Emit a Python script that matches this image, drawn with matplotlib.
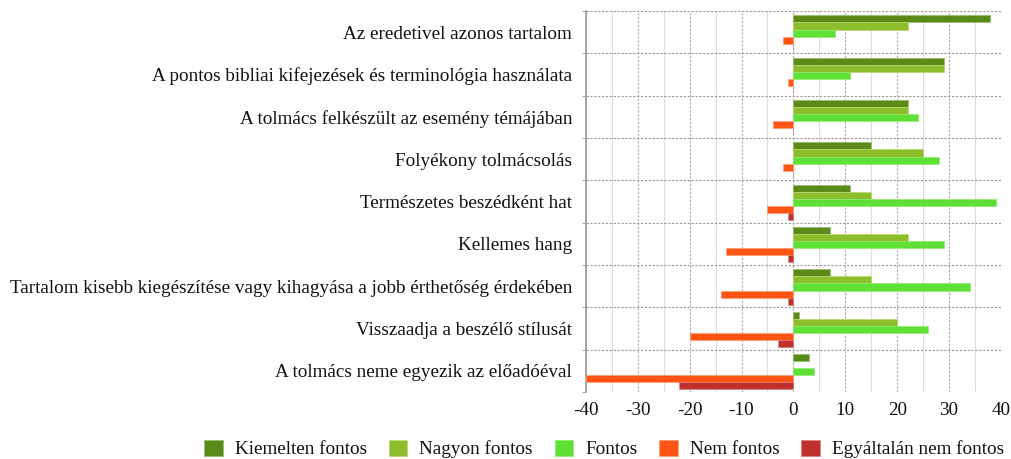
import matplotlib
matplotlib.use("Agg")
import matplotlib.pyplot as plt
import numpy as np

categories = [
    "Az eredetivel azonos tartalom",
    "A pontos bibliai kifejezések és terminológia használata",
    "A tolmács felkészült az esemény témájában",
    "Folyékony tolmácsolás",
    "Természetes beszédként hat",
    "Kellemes hang",
    "Tartalom kisebb kiegészítése vagy kihagyása a jobb érthetőség érdekében",
    "Visszaadja a beszélő stílusát",
    "A tolmács neme egyezik az előadóéval",
]
series_names = ["Kiemelten fontos", "Nagyon fontos", "Fontos", "Nem fontos", "Egyáltalán nem fontos"]
kiemelten = [38, 29, 22, 15, 11, 7, 7, 1, 3]
nagyon = [22, 29, 22, 25, 15, 22, 15, 20, 0]
fontos = [8, 11, 24, 28, 39, 29, 34, 26, 4]
nem = [-2, -1, -4, -2, -5, -13, -14, -20, -40]
egyaltalan = [0, 0, 0, 0, -1, -1, -1, -3, -22]
xticks = [-40, -30, -20, -10, 0, 10, 20, 30, 40]

series = [kiemelten, nagyon, fontos, nem, egyaltalan]
colors = ["#5b8a19", "#8dbd2b", "#5ee034", "#ff5514", "#c0302c"]
edges = ["#8fbf6a", "#b6db70", "#8eeb70", "#ff9a70", "#d8807a"]

plt.rcParams['font.family'] = ['Liberation Serif', 'DejaVu Serif']
plt.rcParams['text.color'] = '#111111'
fig = plt.figure(figsize=(10.12, 4.59), dpi=100)
ax = fig.add_axes([0.579, 0.146, 0.410, 0.830])

n = len(categories)
y = np.arange(n)
h = 0.166
for k, (vals, c, e, name) in enumerate(zip(series, colors, edges, series_names)):
    ax.barh(y + (k - 2) * h + 0.02, vals, height=h, color=c, edgecolor=e,
            linewidth=0.5, label=name, zorder=3)

ax.set_ylim(n - 0.5, -0.5)
ax.set_xlim(-40, 40)
ax.set_xticks(xticks)
ax.set_xticklabels([str(v) for v in xticks], fontsize=13.8, color='#111111')
ax.set_xticks(np.arange(-35, 41, 10), minor=True)
ax.set_yticks(y)
ax.set_yticklabels(categories, fontsize=13.8, color='#111111')
ax.set_yticks(np.arange(-0.5, n, 1.0), minor=True)
ax.tick_params(axis='y', which='major', length=0, pad=10)
ax.tick_params(axis='y', which='minor', length=3, color='#999999')
ax.tick_params(axis='x', which='both', length=0, pad=7)

ax.grid(True, which='major', axis='x', color='#aaaaaa', linestyle=(0, (2, 1.5)), linewidth=0.8, zorder=0)
ax.grid(True, which='minor', axis='x', color='#dddddd', linestyle='-', linewidth=0.8, zorder=0)
ax.grid(True, which='minor', axis='y', color='#999999', linestyle=(0, (2, 1.5)), linewidth=0.8, zorder=0)

for s in ['top', 'right', 'bottom']:
    ax.spines[s].set_visible(False)
ax.spines['left'].set_color('#999999')
ax.spines['left'].set_linewidth(1.2)

handles, labels = ax.get_legend_handles_labels()
fig.legend(handles, labels, loc='center', bbox_to_anchor=(0.597, 0.022), ncol=5,
           frameon=False, fontsize=13.8, handlelength=0.95, handleheight=0.9,
           handletextpad=0.63, columnspacing=1.15)

fig.savefig("out.png", dpi=100)
